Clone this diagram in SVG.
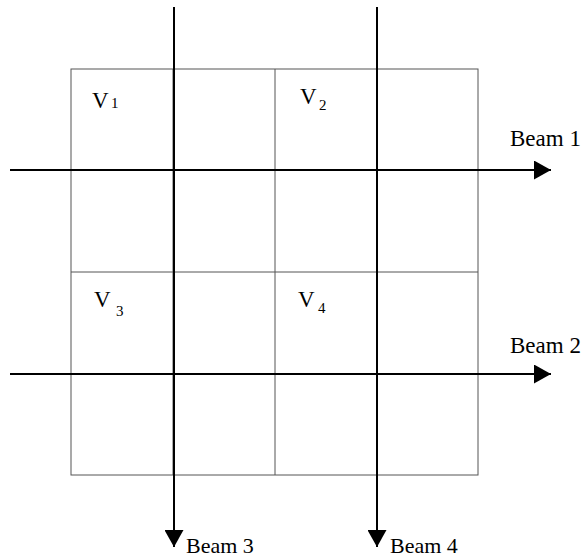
<svg xmlns="http://www.w3.org/2000/svg" width="584" height="558" viewBox="0 0 584 558">
<style>
.grid{fill:none;stroke:#555;stroke-width:1}
.beam{stroke:#000;stroke-width:2;fill:none}
text{font-family:"Liberation Serif","Times New Roman","DejaVu Serif",serif;fill:#000}
.t{font-size:23px}
.b{font-size:22px}
.v{font-size:23px}
.s{font-size:15px}
</style>
<defs>
<marker id="ah" markerWidth="17" markerHeight="19" refX="17" refY="9.5" orient="auto" markerUnits="userSpaceOnUse">
<path d="M0,0 L17,9.5 L0,19 Z" fill="#000"/>
</marker>
</defs>
<g id="grid">
<rect class="grid" x="71" y="69" width="407" height="406"/>
<line class="grid" x1="173" y1="69" x2="173" y2="475"/>
<line class="grid" x1="275" y1="69" x2="275" y2="475"/>
<line class="grid" x1="377" y1="69" x2="377" y2="475"/>
<line class="grid" x1="71" y1="170" x2="478" y2="170"/>
<line class="grid" x1="71" y1="272" x2="478" y2="272"/>
<line class="grid" x1="71" y1="374" x2="478" y2="374"/>
</g>
<g id="connectors">
<line class="beam" x1="10" y1="170" x2="551" y2="170" marker-end="url(#ah)"/>
<line class="beam" x1="10" y1="374" x2="551" y2="374" marker-end="url(#ah)"/>
<line class="beam" x1="174" y1="7" x2="174" y2="547" marker-end="url(#ah)"/>
<line class="beam" x1="377" y1="7" x2="377" y2="547" marker-end="url(#ah)"/>
</g>
<g id="V1"><text class="v" x="92" y="108">V<tspan class="s" x="111" y="108">1</tspan></text></g>
<g id="V2"><text class="v" x="300" y="104">V<tspan class="s" x="319" y="110">2</tspan></text></g>
<g id="V3"><text class="v" x="94" y="307">V<tspan class="s" x="116" y="316">3</tspan></text></g>
<g id="V4"><text class="v" x="298" y="307">V<tspan class="s" x="318" y="313">4</tspan></text></g>
<g id="beam1"><text class="t" x="510" y="146">Beam 1</text></g>
<g id="beam2"><text class="t" x="510" y="353">Beam 2</text></g>
<g id="beam3"><text class="b" x="186" y="553">Beam 3</text></g>
<g id="beam4"><text class="b" x="390" y="553">Beam 4</text></g>
</svg>
